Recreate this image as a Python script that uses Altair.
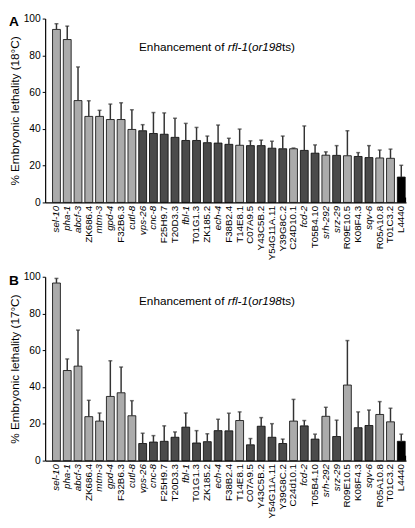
import altair as alt
import pandas as pd

genes_a = ["sel-10", "pha-1", "abcf-3", "ZK686.4", "mtm-3", "gpd-4", "F32B6.3", "cutl-8",
           "vps-26", "cnc-8", "F25H9.7", "T20D3.3", "fbl-1", "T01G1.3", "ZK185.2", "ech-4",
           "F38B2.4", "T14E8.1", "C07A9.5", "Y43C5B.2", "Y54G11A.11", "Y39G8C.2", "C24D10.1",
           "fcd-2", "T05B4.10", "srh-292", "srz-29", "R09E10.5", "K08F4.3", "sqv-6",
           "R05A10.8", "T01C3.2", "L4440"]
val_a = [94.1, 88.6, 55.4, 46.8, 46.8, 45.1, 45.1, 39.7, 39.0, 37.5, 37.1, 35.4, 33.7, 33.7,
         32.5, 32.3, 31.6, 31.1, 30.9, 30.9, 29.5, 29.2, 29.2, 28.3, 26.8, 25.7, 25.6, 25.4,
         25.0, 24.4, 24.2, 24.0, 13.8]
upper_a = [97.2, 95.9, 73.7, 55.3, 50.1, 53.5, 54.2, 50.4, 42.3, 48.9, 48.7, 45.8, 43.0, 40.8,
           36.1, 42.1, 34.9, 39.9, 33.5, 33.9, 33.3, 36.1, 29.6, 41.6, 31.3, 27.5, 30.9, 39.0,
           27.1, 30.9, 28.5, 29.0, 20.2]

genes_b = ["sel-10", "pha-1", "abcf-3", "ZK686.4", "mtm-3", "gpd-4", "F32B6.3", "cutl-8",
           "vps-26", "cnc-8", "F25H9.7", "T20D3.3", "fbl-1", "T01G1.3", "ZK185.2", "ech-4",
           "F38B2.4", "T14E8.1", "C07A9.5", "Y43C5B.2", "Y54G11A.11", "Y39G8C.2", "C24d10.1",
           "fcd-2", "T05B4.10", "srh-292", "srz-29", "R09E10.5", "K08F4.3", "sqv-6",
           "R05A10.8", "T01C3.2", "L4440"]
val_b = [96.6, 49.0, 51.4, 23.9, 21.5, 34.9, 36.9, 24.4, 9.3, 10.1, 10.5, 12.7, 18.2, 9.6,
         10.3, 16.3, 16.2, 21.8, 8.6, 18.7, 12.7, 9.3, 21.5, 18.9, 11.7, 24.1, 13.1, 41.1,
         17.9, 19.1, 25.1, 21.1, 10.5]
upper_b = [99.1, 55.3, 71.0, 32.8, 25.9, 54.3, 50.9, 32.6, 14.9, 13.6, 18.9, 15.6, 25.9, 16.3,
           14.6, 22.5, 25.8, 26.5, 12.0, 23.4, 20.1, 11.7, 33.3, 21.8, 14.4, 29.0, 22.0, 65.3,
           26.5, 27.5, 32.1, 28.5, 14.4]

light_genes = ["sel-10", "pha-1", "abcf-3", "ZK686.4", "mtm-3", "gpd-4", "F32B6.3", "cutl-8",
               "T14E8.1", "C24D10.1", "C24d10.1", "srh-292", "R09E10.5", "R05A10.8", "T01C3.2"]
control_gene = "L4440"
italic_genes = ["sel-10", "pha-1", "abcf-3", "mtm-3", "gpd-4", "cutl-8", "vps-26", "cnc-8",
                "fbl-1", "ech-4", "fcd-2", "srh-292", "srz-29", "sqv-6"]
y_ticks = [0, 20, 40, 60, 80, 100]

title_pieces = ["Enhancement of ", "rfl-1", "(", "or198", "ts)"]
title_styles = ["normal", "italic", "normal", "italic", "normal"]

FONT = "Liberation Sans"
W, H = 369, 188

# approximate Arial/Liberation widths (em) to chain title pieces
CW = {"E": .667, "n": .556, "h": .556, "a": .556, "c": .5, "e": .556, "m": .833, "t": .278,
      " ": .278, "o": .556, "f": .278, "r": .333, "l": .222, "-": .333, "1": .556, "(": .333,
      "9": .556, "8": .556, "s": .5, ")": .333}


def group(g):
    if g == control_gene:
        return "ctrl"
    return "light" if g in light_genes else "dark"


def panel(genes, vals, uppers, ytitle, letter, ty):
    df = pd.DataFrame({"gene": genes, "v": vals, "u": uppers,
                       "grp": [group(g) for g in genes]})
    test = "indexof([" + ",".join("'" + g + "'" for g in italic_genes) + "], datum.value) >= 0"
    xscale = alt.Scale(paddingInner=0.27, paddingOuter=0.38, align=0.9)
    xaxis = alt.Axis(title=None, labelAngle=270, ticks=False, labelFontSize=10,
                     labelFont=FONT, labelColor="black", labelPadding=3,
                     domainColor="black", domainWidth=1.2,
                     labelFontStyle={"condition": {"test": test, "value": "italic"},
                                     "value": "normal"})
    yscale = alt.Scale(domain=[0, 100])
    yaxis = alt.Axis(title=ytitle, values=y_ticks, grid=False, labelOverlap=False,
                     tickSize=3, tickColor="black", domainColor="black",
                     domainWidth=1.2, labelFontSize=10.5, labelFont=FONT,
                     labelColor="black", labelPadding=2, titleFont=FONT,
                     titleFontSize=12, titleFontWeight="normal", titleColor="black",
                     titlePadding=2)
    x = alt.X("gene:N", sort=genes, scale=xscale, axis=xaxis)
    base = alt.Chart(df)
    bars = base.mark_bar(stroke="black", strokeWidth=0.8).encode(
        x=x, y=alt.Y("v:Q", scale=yscale, axis=yaxis),
        color=alt.Color("grp:N", legend=None,
                        scale=alt.Scale(domain=["light", "dark", "ctrl"],
                                        range=["#ababab", "#4a4a4a", "#000000"])))
    err = base.mark_rule(color="#333333", strokeWidth=1.5).encode(
        x=x, y=alt.Y("v:Q", scale=yscale, axis=yaxis), y2="u:Q")
    cap = base.mark_tick(color="#333333", thickness=1.5, size=4, orient="horizontal").encode(
        x=x, y=alt.Y("u:Q", scale=yscale, axis=yaxis))
    layers = [bars, err, cap]
    xoff = 96
    one = pd.DataFrame({"a": [0]})
    for piece, style in zip(title_pieces, title_styles):
        layers.append(alt.Chart(one).mark_text(
            text=piece, align="left", baseline="middle", fontSize=12, font=FONT,
            fontStyle=style, color="black").encode(x=alt.value(xoff), y=alt.value(ty)))
        xoff += sum(CW.get(c, .556) for c in piece) * 12
    layers.append(alt.Chart(one).mark_text(
        text=letter, align="left", baseline="middle", fontSize=14, font=FONT,
        fontWeight="bold", color="black").encode(x=alt.value(-37), y=alt.value(4)))
    # small end tick at the right end of the x axis
    layers.append(alt.Chart(one).mark_rule(color="black", strokeWidth=1.2).encode(
        x=alt.value(W - 0.5), y=alt.value(H - 5), y2=alt.value(H)))
    return alt.layer(*layers).properties(width=W, height=H)


pa = panel(genes_a, val_a, upper_a, "% Embryonic lethality (18°C)", "A", 29)
pb = panel(genes_b, val_b, upper_b, "% Embryonic lethality (17°C)", "B", 25)

chart = alt.vconcat(pa, pb, spacing=12).resolve_scale(x="independent").properties(
    padding=0).configure_view(stroke=None)

chart.save("out.html", embed_options={"renderer": "svg", "actions": False})
